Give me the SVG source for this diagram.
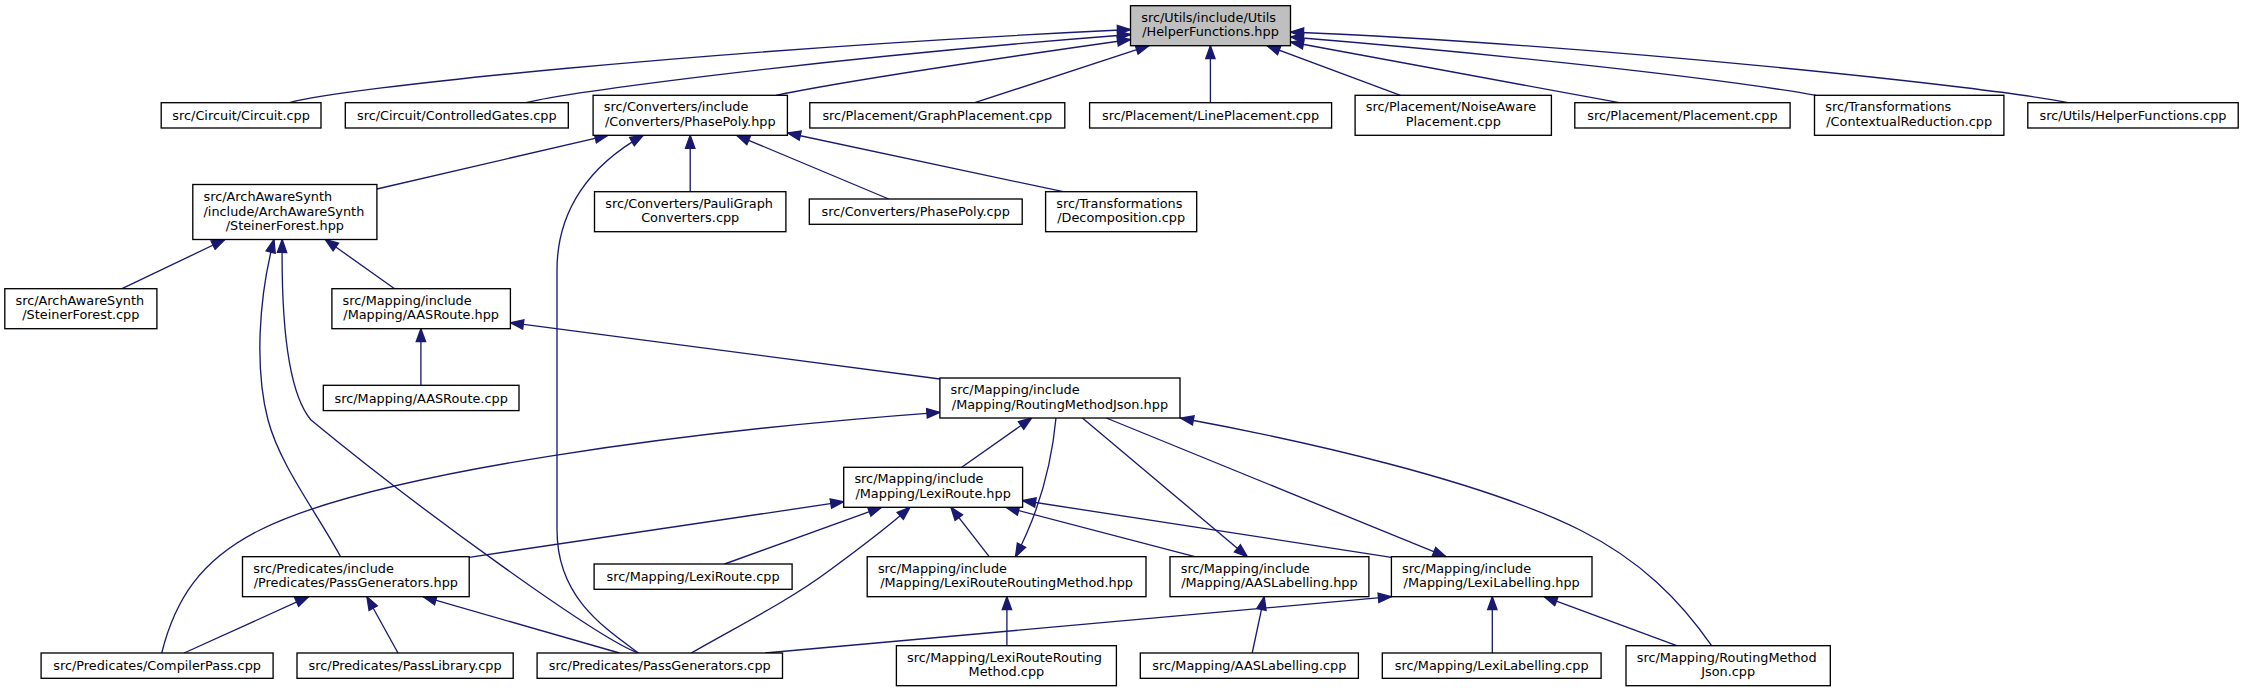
<svg xmlns="http://www.w3.org/2000/svg" width="2244" height="692" viewBox="0 0 2244 692">
<defs>
<style>
.n rect{fill:#fff;stroke:#000;stroke-width:1.33}
.n text{font-family:"DejaVu Sans","Liberation Sans",sans-serif;font-size:12.85px;fill:#000}
.n .c{text-anchor:middle}
#root rect{fill:#bfbfbf}
.e path{fill:none;stroke:#191970;stroke-width:1.33;marker-end:url(#a)}
</style>
<marker id="a" markerUnits="userSpaceOnUse" markerWidth="18" markerHeight="12" viewBox="0 0 18 12" refX="14" refY="6" orient="auto">
<path d="M1,1.3 L14,6 L1,10.7 z" fill="#191970" stroke="#191970" stroke-width="1.33"/>
</marker>
</defs>
<rect width="2244" height="692" fill="#fff"/>
<g id="connectors" class="e">
<path d="M289.4,102.7 C340,88 700,50 1130.5,29.5"/>
<path d="M526,102.7 C560,94 800,60 1130.5,34.5"/>
<path d="M776,95.3 C850,80 1000,58 1130.5,39.5"/>
<path d="M974.8,102.7 L1149,45.7"/>
<path d="M1210.4,102.7 L1210.4,45.7"/>
<path d="M1400.5,95.3 L1267,45.7"/>
<path d="M1619.3,102.7 L1290.5,42"/>
<path d="M1816,95.3 C1700,75 1450,50 1290.5,37"/>
<path d="M2068,102.7 C2000,88 1600,45 1290.5,32"/>
<path d="M376.9,189 L608,135.3"/>
<path d="M638.5,653 C600,625 557,595 557,530 L557,270 C557,210 590,165 643.3,135.3"/>
<path d="M690.2,191.7 L690.2,135.3"/>
<path d="M888.7,199 L736.7,135.3"/>
<path d="M1063.3,191.7 L787.5,133"/>
<path d="M122,288.7 L224.8,239.5"/>
<path d="M394.6,288.7 L325.2,239.5"/>
<path d="M340.6,556.7 C315,510 280,465 268,420 C255,370 258,300 274,239.5"/>
<path d="M638.5,653 C600,640 420,510 311,420 C290,395 281,330 282.2,239.5"/>
<path d="M420.9,385.3 L420.9,328.7"/>
<path d="M940,379 L510.4,322.7"/>
<path d="M161.7,653 C175,600 200,560 260,530 C380,470 700,430 939.9,412.3"/>
<path d="M961.7,467.3 L1031.7,418"/>
<path d="M1056,418 C1052,460 1040,510 1015.5,556.7"/>
<path d="M1082.4,418 L1247.4,556.7"/>
<path d="M1106.3,418 L1446,556.7"/>
<path d="M1711.6,645.7 C1680,600 1640,560 1580,530 C1480,480 1300,440 1180.5,418"/>
<path d="M469.2,557.3 L843.7,501.7"/>
<path d="M724.6,564 L881.5,507.3"/>
<path d="M691.2,653 C740,625 790,600 830,570 C860,548 890,525 910,507.3"/>
<path d="M989.2,556.7 L950.9,507.3"/>
<path d="M1194.8,556.7 L1006,507.3"/>
<path d="M1391.4,557.3 L1022.6,500.5"/>
<path d="M184.1,653 L308.5,596.7"/>
<path d="M398,653 L366.9,596.7"/>
<path d="M619.4,653 L423.3,596.7"/>
<path d="M1006.9,645.7 L1006.9,596.7"/>
<path d="M1252.2,653 L1264.2,596.7"/>
<path d="M1492.3,653 L1492.3,596.7"/>
<path d="M1676.7,645.7 L1544.2,596.7"/>
<path d="M765,653 L1391.4,596.7"/>
</g>
<g id="root" class="n"><rect x="1130.5" y="5.7" width="160" height="40"/><text x="1141.2" y="21.7">src/Utils/include/Utils</text><text class="c" x="1210.5" y="36.4">/HelperFunctions.hpp</text></g>
<g id="circuit_cpp" class="n"><rect x="161.2" y="102.7" width="159.8" height="25.3"/><text class="c" x="241.1" y="119.9">src/Circuit/Circuit.cpp</text></g>
<g id="controlledgates_cpp" class="n"><rect x="345.3" y="102.7" width="223" height="25.3"/><text class="c" x="456.8" y="119.9">src/Circuit/ControlledGates.cpp</text></g>
<g id="phasepoly_hpp" class="n"><rect x="593.1" y="95.3" width="194.3" height="40"/><text x="603.8" y="111.3">src/Converters/include</text><text class="c" x="690.25" y="126">/Converters/PhasePoly.hpp</text></g>
<g id="graphplacement_cpp" class="n"><rect x="809.8" y="102.7" width="255" height="25.3"/><text class="c" x="937.3" y="119.9">src/Placement/GraphPlacement.cpp</text></g>
<g id="lineplacement_cpp" class="n"><rect x="1089.6" y="102.7" width="242" height="25.3"/><text class="c" x="1210.6" y="119.9">src/Placement/LinePlacement.cpp</text></g>
<g id="noiseaware_cpp" class="n"><rect x="1355.1" y="95.3" width="196.3" height="40"/><text x="1365.8" y="111.3">src/Placement/NoiseAware</text><text class="c" x="1453.25" y="126">Placement.cpp</text></g>
<g id="placement_cpp" class="n"><rect x="1574.8" y="102.7" width="215.3" height="25.3"/><text class="c" x="1682.45" y="119.9">src/Placement/Placement.cpp</text></g>
<g id="contextualreduction_cpp" class="n"><rect x="1814.5" y="95.3" width="189.4" height="40"/><text x="1825.2" y="111.3">src/Transformations</text><text class="c" x="1909.2" y="126">/ContextualReduction.cpp</text></g>
<g id="helperfunctions_cpp" class="n"><rect x="2027.8" y="102.7" width="210.4" height="25.3"/><text class="c" x="2133" y="119.9">src/Utils/HelperFunctions.cpp</text></g>
<g id="steinerforest_hpp" class="n"><rect x="192.8" y="184.5" width="184.1" height="55"/><text x="203.5" y="201">src/ArchAwareSynth</text><text x="203.5" y="215.7">/include/ArchAwareSynth</text><text class="c" x="284.85" y="230.4">/SteinerForest.hpp</text></g>
<g id="pauligraph_cpp" class="n"><rect x="594.5" y="191.7" width="191.4" height="40"/><text x="605.2" y="207.7">src/Converters/PauliGraph</text><text class="c" x="690.2" y="222.4">Converters.cpp</text></g>
<g id="phasepoly_cpp" class="n"><rect x="809.3" y="199" width="212.9" height="25.3"/><text class="c" x="915.75" y="216.2">src/Converters/PhasePoly.cpp</text></g>
<g id="decomposition_cpp" class="n"><rect x="1045.6" y="191.7" width="151.1" height="40"/><text x="1056.3" y="207.7">src/Transformations</text><text class="c" x="1121.15" y="222.4">/Decomposition.cpp</text></g>
<g id="steinerforest_cpp" class="n"><rect x="4.8" y="288.7" width="152.1" height="40"/><text x="15.5" y="304.7">src/ArchAwareSynth</text><text class="c" x="80.85" y="319.4">/SteinerForest.cpp</text></g>
<g id="aasroute_hpp" class="n"><rect x="331.9" y="288.7" width="178.5" height="40"/><text x="342.6" y="304.7">src/Mapping/include</text><text class="c" x="421.15" y="319.4">/Mapping/AASRoute.hpp</text></g>
<g id="aasroute_cpp" class="n"><rect x="323.3" y="385.3" width="195.7" height="25.3"/><text class="c" x="421.15" y="402.5">src/Mapping/AASRoute.cpp</text></g>
<g id="routingmethodjson_hpp" class="n"><rect x="939.9" y="378" width="240.1" height="40"/><text x="950.6" y="394">src/Mapping/include</text><text class="c" x="1059.95" y="408.7">/Mapping/RoutingMethodJson.hpp</text></g>
<g id="lexiroute_hpp" class="n"><rect x="843.7" y="467.3" width="178.9" height="40"/><text x="854.4" y="483.3">src/Mapping/include</text><text class="c" x="933.15" y="498">/Mapping/LexiRoute.hpp</text></g>
<g id="passgenerators_hpp" class="n"><rect x="242.5" y="556.7" width="226.7" height="40"/><text x="253.2" y="572.7">src/Predicates/include</text><text class="c" x="355.85" y="587.4">/Predicates/PassGenerators.hpp</text></g>
<g id="lexiroute_cpp" class="n"><rect x="594.1" y="564" width="198" height="25.3"/><text class="c" x="693.1" y="581.2">src/Mapping/LexiRoute.cpp</text></g>
<g id="lexirouteroutingmethod_hpp" class="n"><rect x="867.2" y="556.7" width="278.8" height="40"/><text x="877.9" y="572.7">src/Mapping/include</text><text class="c" x="1006.6" y="587.4">/Mapping/LexiRouteRoutingMethod.hpp</text></g>
<g id="aaslabelling_hpp" class="n"><rect x="1170" y="556.7" width="198.9" height="40"/><text x="1180.7" y="572.7">src/Mapping/include</text><text class="c" x="1269.45" y="587.4">/Mapping/AASLabelling.hpp</text></g>
<g id="lexilabelling_hpp" class="n"><rect x="1391.4" y="556.7" width="200.6" height="40"/><text x="1402.1" y="572.7">src/Mapping/include</text><text class="c" x="1491.7" y="587.4">/Mapping/LexiLabelling.hpp</text></g>
<g id="compilerpass_cpp" class="n"><rect x="41.1" y="653" width="232" height="25.3"/><text class="c" x="157.1" y="670.2">src/Predicates/CompilerPass.cpp</text></g>
<g id="passlibrary_cpp" class="n"><rect x="297" y="653" width="216.2" height="25.3"/><text class="c" x="405.1" y="670.2">src/Predicates/PassLibrary.cpp</text></g>
<g id="passgenerators_cpp" class="n"><rect x="537.1" y="653" width="245.4" height="25.3"/><text class="c" x="659.8" y="670.2">src/Predicates/PassGenerators.cpp</text></g>
<g id="lexirouteroutingmethod_cpp" class="n"><rect x="896.4" y="645.7" width="220" height="40"/><text x="907.1" y="661.7">src/Mapping/LexiRouteRouting</text><text class="c" x="1006.4" y="676.4">Method.cpp</text></g>
<g id="aaslabelling_cpp" class="n"><rect x="1140.3" y="653" width="218.1" height="25.3"/><text class="c" x="1249.35" y="670.2">src/Mapping/AASLabelling.cpp</text></g>
<g id="lexilabelling_cpp" class="n"><rect x="1382.3" y="653" width="218.8" height="25.3"/><text class="c" x="1491.7" y="670.2">src/Mapping/LexiLabelling.cpp</text></g>
<g id="routingmethodjson_cpp" class="n"><rect x="1626" y="645.7" width="204.3" height="40"/><text x="1636.7" y="661.7">src/Mapping/RoutingMethod</text><text class="c" x="1728.15" y="676.4">Json.cpp</text></g>
</svg>
